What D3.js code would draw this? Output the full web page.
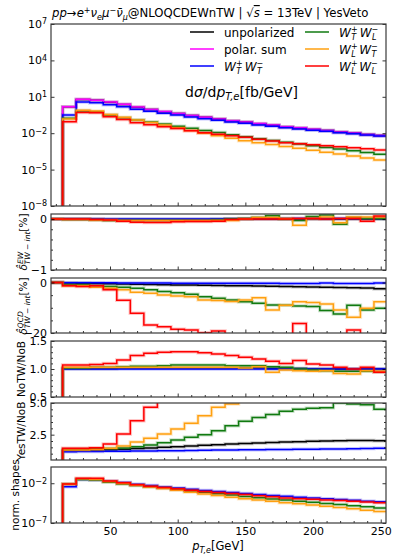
<!DOCTYPE html>
<html>
<head>
<meta charset="utf-8">
<script src="https://cdn.jsdelivr.net/npm/d3@7"></script>
<style>
body { margin: 0; background: #fff; }
svg { display: block; }
text { font-family: "DejaVu Sans", sans-serif; fill: #000; }
</style>
</head>
<body>
<svg width="399" height="559"></svg>
<script>
// bin edges of p_T,e [GeV]
var binEdges = [5,15,25,35,45,55,65,75,85,95,105,115,125,135,145,155,165,175,185,195,205,215,225,235,245,255];

// main panel, log10 of dsigma/dpT [fb/GeV]; first bin is empty
var logUnpol = [null,0.17,0.78,0.71,0.56,0.37,0.14,-0.05,-0.23,-0.38,-0.55,-0.69,-0.83,-0.98,-1.08,-1.22,-1.34,-1.47,-1.57,-1.69,-1.78,-1.91,-1.99,-2.11,-2.19];
var logSum   = [null,0.18,0.79,0.72,0.57,0.38,0.15,-0.04,-0.22,-0.37,-0.54,-0.68,-0.82,-0.97,-1.07,-1.21,-1.33,-1.46,-1.56,-1.68,-1.77,-1.90,-1.98,-2.10,-2.18];
var logTT    = [null,-0.50,0.58,0.50,0.35,0.18,-0.03,-0.20,-0.36,-0.50,-0.66,-0.80,-0.94,-1.08,-1.18,-1.32,-1.43,-1.55,-1.65,-1.76,-1.84,-1.96,-2.04,-2.15,-2.23];
var logTL    = [null,-0.77,-0.17,-0.23,-0.50,-0.72,-0.91,-1.08,-1.24,-1.42,-1.60,-1.77,-1.95,-2.12,-2.30,-2.45,-2.60,-2.75,-2.89,-3.03,-3.17,-3.31,-3.45,-3.60,-3.74];
var logLT    = [null,-0.82,-0.10,-0.18,-0.45,-0.68,-0.92,-1.12,-1.32,-1.55,-1.78,-2.00,-2.20,-2.42,-2.62,-2.78,-2.94,-3.10,-3.25,-3.40,-3.56,-3.72,-3.88,-4.05,-4.21];
var logLL    = [null,-1.05,-0.30,-0.31,-0.64,-0.88,-1.13,-1.30,-1.46,-1.62,-1.80,-1.96,-2.09,-2.22,-2.34,-2.49,-2.64,-2.78,-2.87,-2.95,-3.03,-3.11,-3.20,-3.29,-3.38];

// EW TW-interference correction [%]
var ewUnpol = [0,0,0,-0.005,-0.01,-0.01,-0.01,-0.01,-0.01,-0.01,-0.01,-0.01,-0.005,0,0,0,0,0,0,0,0,0,0,0,0];
var ewTT    = [0,0,0,0,0,0,0,0,0,0,0,0,0,0.005,0.005,0.01,0.01,0.01,0.01,0.01,0.01,0.01,0.01,0.01,0.01];
var ewTL    = [0,-0.01,-0.01,-0.02,-0.03,-0.03,-0.03,-0.03,-0.03,-0.03,-0.03,-0.03,-0.02,0,0.01,0.03,0.066,0,-0.03,0.05,0.08,-0.10,0.03,0.01,0.01];
var ewLT    = [0,-0.01,-0.01,-0.02,-0.02,-0.03,-0.03,-0.03,-0.03,-0.03,-0.03,-0.03,-0.03,-0.03,0,0.03,0.03,0.01,-0.12,0.01,0.04,-0.07,0.04,0.04,0.04];
var ewLL    = [0,0,0,-0.01,-0.02,-0.04,-0.06,-0.066,-0.066,-0.053,-0.046,-0.046,-0.04,-0.007,0,0,0,0,0.01,0.013,0,0.013,0.013,-0.04,0.06];

// QCD TW-interference correction [%]
var qcdUnpol = [0,-0.2,-0.3,-0.4,-0.5,-0.6,-0.7,-0.8,-0.9,-1.0,-1.0,-1.1,-1.2,-1.3,-1.3,-1.4,-1.5,-1.6,-1.7,-1.8,-1.9,-2.0,-2.1,-2.2,-2.5];
var qcdTT    = [0,-0.1,-0.1,-0.1,-0.1,-0.2,-0.2,-0.2,-0.2,-0.3,-0.3,-0.3,-0.3,-0.3,-0.3,-0.3,-0.3,-0.4,-0.4,-0.4,-0.2,-0.4,-0.4,-0.4,-0.2];
var qcdTL    = [0,-0.9,-0.9,-1.3,-1.6,-1.9,-2.3,-2.9,-3.6,-4.0,-4.6,-5.6,-6.2,-6.9,-7.6,-8.2,-8.9,-9.0,-9.3,-9.5,-11.1,-12.5,-9.0,-10.9,-10.2];
var qcdLT    = [0,-1.3,-1.3,-1.9,-2.3,-2.9,-3.8,-4.2,-4.9,-5.3,-5.6,-6.9,-7.1,-7.5,-6.9,-6.0,-10.9,-9.0,-7.6,-7.9,-8.5,-10.9,-13.8,-10.2,-7.6];
var qcdLL    = [0,-1.3,-1.6,-1.3,-2.9,-7.0,-12.2,-16.8,-17.5,-18.5,-18.8,-19.9,-19.2,-23,-23,-23,-23,-23,-16.2,-23,-23,-23,-18.8,-23,-23];

// NoTW / NoB
var noUnpol = [null,1.01,1.01,1.01,1.01,1.02,1.02,1.02,1.02,1.02,1.02,1.02,1.02,1.02,1.02,1.02,1.01,1.01,1.01,1.0,1.0,1.0,1.0,1.0,1.0];
var noTT    = [null,1.0,1.0,1.0,1.0,1.0,1.0,1.0,1.0,1.0,1.0,1.0,1.0,1.0,1.0,1.0,1.0,1.0,1.0,1.0,1.0,1.0,1.0,1.0,1.0];
var noTL    = [null,1.02,1.02,1.03,1.03,1.04,1.05,1.05,1.06,1.07,1.07,1.07,1.07,1.06,1.06,1.06,1.04,1.03,1.0,0.98,0.97,0.96,0.96,0.96,0.95];
var noLT    = [null,1.03,1.03,1.03,1.03,1.03,1.03,1.03,1.03,1.03,1.03,1.03,1.03,1.03,1.02,1.04,0.94,0.98,0.97,0.96,0.97,0.92,0.91,0.97,0.96];
var noLL    = [null,1.07,1.07,1.08,1.10,1.16,1.24,1.28,1.30,1.31,1.31,1.29,1.27,1.24,1.21,1.18,1.14,1.10,1.15,1.09,1.07,1.03,1.00,1.03,0.94];

// YesTW / NoB
var yesUnpol = [null,1.24,1.26,1.28,1.30,1.34,1.40,1.45,1.50,1.55,1.60,1.66,1.71,1.76,1.80,1.84,1.88,1.92,1.95,1.98,2.0,2.02,2.03,2.03,2.02];
var yesTT    = [null,1.16,1.17,1.18,1.19,1.20,1.21,1.22,1.23,1.24,1.25,1.27,1.28,1.29,1.30,1.31,1.32,1.33,1.34,1.35,1.36,1.37,1.38,1.40,1.42];
var yesTL    = [null,1.35,1.35,1.38,1.40,1.45,1.55,1.68,1.87,2.08,2.29,2.50,2.80,3.20,3.55,3.85,4.10,4.35,4.50,4.58,4.62,5.0,4.92,4.86,4.5];
var yesLT    = [null,1.29,1.29,1.32,1.42,1.61,1.92,2.21,2.55,2.95,3.40,4.0,4.66,4.92,5.4,5.8,6.2,6.6,7.0,7.4,7.8,8.2,8.6,9.0,9.4];
var yesLL    = [null,1.42,1.42,1.47,1.76,2.55,3.60,4.66,5.6,6.5,7.5,8.0,8.5,9.0,9.0,9.0,9.0,9.0,9.0,9.0,9.0,9.0,9.0,9.0,9.0];

// normalised shapes, log10
var shTT = [null,-2.45,-1.52,-1.60,-1.75,-1.92,-2.13,-2.30,-2.46,-2.60,-2.76,-2.90,-3.04,-3.18,-3.28,-3.42,-3.53,-3.65,-3.75,-3.86,-3.94,-4.06,-4.14,-4.25,-4.33];
var shTL = [null,-2.10,-1.54,-1.60,-1.87,-2.09,-2.28,-2.45,-2.61,-2.79,-2.97,-3.14,-3.32,-3.49,-3.67,-3.82,-3.97,-4.12,-4.26,-4.40,-4.54,-4.68,-4.82,-4.97,-5.11];
var shLT = [null,-2.12,-1.44,-1.52,-1.79,-2.02,-2.26,-2.46,-2.66,-2.89,-3.12,-3.34,-3.54,-3.76,-3.96,-4.12,-4.28,-4.44,-4.59,-4.74,-4.90,-5.06,-5.22,-5.39,-5.55];
var shLL = [null,-2.10,-1.37,-1.38,-1.71,-1.95,-2.20,-2.37,-2.53,-2.69,-2.87,-3.03,-3.16,-3.29,-3.41,-3.56,-3.71,-3.85,-3.94,-4.02,-4.10,-4.18,-4.27,-4.36,-4.45];

var colors = {unpol: "#000000", sum: "#ff00ff", TT: "#0000ff", TL: "#107a10", LT: "#ffa010", LL: "#ff0000"};

var svg = d3.select("svg");
var L = 51, R = 386;
var x = d3.scaleLinear().domain([6.4, 253.9]).range([L, R]);

function richText(g, px, py, parts, size, anchor) {
    var t = g.append("text").attr("x", px).attr("y", py)
        .attr("font-size", size).attr("text-anchor", anchor || "start");
    parts.forEach(function(p) {
        var s = t.append("tspan").text(p.t);
        if (p.i) s.attr("font-style", "italic");
        if (p.fs) s.attr("font-size", p.fs);
        if (p.dx) s.attr("dx", p.dx);
        if (p.dy) s.attr("dy", p.dy);
        if (p.over) s.style("text-decoration", "overline");
    });
    return t;
}

function makePanel(id, top, bottom, y, isLog) {
    var g = svg.append("g");
    g.append("clipPath").attr("id", "clip" + id)
        .append("rect").attr("x", L).attr("y", top).attr("width", R - L).attr("height", bottom - top);
    var lines = g.append("g").attr("clip-path", "url(#clip" + id + ")");
    return {g: g, lines: lines, y: y, top: top, bottom: bottom, isLog: isLog};
}

var step = d3.line().curve(d3.curveStepAfter);

function drawStep(p, vals, color) {
    var pts = [];
    vals.forEach(function(v, k) {
        if (v === null) return;
        var py = p.isLog ? p.y(Math.pow(10, v)) : p.y(v);
        if (!pts.length && k > 0) pts.push([x(binEdges[k]), p.bottom + 30]); // empty bin: rise from below
        pts.push([x(binEdges[k]), py]);
    });
    pts.push([x(binEdges[vals.length]), pts[pts.length - 1][1]]);
    // the first point sits at the same x, so the step curve gives a vertical rise
    var d = step(pts);
    p.lines.append("path").attr("d", d).attr("fill", "none")
        .attr("stroke", color).attr("stroke-width", 3.5).attr("stroke-opacity", 0.22);
    p.lines.append("path").attr("d", d).attr("fill", "none")
        .attr("stroke", color).attr("stroke-width", 1.5);
}

function styleAxis(sel) {
    sel.select(".domain").remove();
    sel.selectAll("line").attr("stroke", "#000").attr("stroke-width", 0.8);
    sel.selectAll("text").attr("font-size", 11).attr("font-family", "DejaVu Sans").attr("fill", "#000");
}

function frame(p, major, minor, fmt, xLabels) {
    var g = p.g;
    g.append("g").attr("transform", "translate(" + L + ",0)")
        .call(d3.axisLeft(p.y).tickValues(major).tickSize(-3.5).tickPadding(4).tickFormat(fmt))
        .call(styleAxis);
    g.append("g").attr("transform", "translate(" + R + ",0)")
        .call(d3.axisRight(p.y).tickValues(major).tickSize(-3.5).tickFormat(""))
        .call(styleAxis);
    if (minor.length) {
        g.append("g").attr("transform", "translate(" + L + ",0)")
            .call(d3.axisLeft(p.y).tickValues(minor).tickSize(-2).tickFormat("")).call(styleAxis);
        g.append("g").attr("transform", "translate(" + R + ",0)")
            .call(d3.axisRight(p.y).tickValues(minor).tickSize(-2).tickFormat("")).call(styleAxis);
    }
    g.append("g").attr("transform", "translate(0," + p.bottom + ")")
        .call(d3.axisBottom(x).tickValues([50, 100, 150, 200, 250]).tickSize(-3.5).tickPadding(4)
            .tickFormat(xLabels ? d3.format("d") : ""))
        .call(styleAxis);
    g.append("g").attr("transform", "translate(0," + p.bottom + ")")
        .call(d3.axisBottom(x).tickValues([10,20,30,40,60,70,80,90,110,120,130,140,160,170,180,190,210,220,230,240])
            .tickSize(-2).tickFormat(""))
        .call(styleAxis);
    g.append("rect").attr("x", L).attr("y", p.top).attr("width", R - L).attr("height", p.bottom - p.top)
        .attr("fill", "none").attr("stroke", "#3a3a3a").attr("stroke-width", 1.2);
}

function logLabels(p) {
    p.g.selectAll(".tick text").filter(function() { return this.textContent === "L"; })
        .each(function(d) {
            var e = Math.round(Math.log10(d));
            var t = d3.select(this).text(null);
            t.append("tspan").text("10");
            t.append("tspan").attr("dy", "-0.45em").attr("font-size", 8).text(String(e).replace("-", "\u2212"));
        });
}

function sideLabel(cx, cy, parts, size) {
    var g = svg.append("g").attr("transform", "translate(" + cx + "," + cy + ") rotate(-90)");
    richText(g, 0, 0, parts, size, "middle");
}

var minusFmt = function(d) { return String(d).replace("-", "\u2212"); };

// main panel
var pMain = makePanel("main", 24, 206, d3.scaleLog().domain([1e-8, 1e7]).range([206, 24]), true);
drawStep(pMain, logUnpol, colors.unpol);
drawStep(pMain, logSum, colors.sum);
drawStep(pMain, logTT, colors.TT);
drawStep(pMain, logTL, colors.TL);
drawStep(pMain, logLT, colors.LT);
drawStep(pMain, logLL, colors.LL);
frame(pMain, [1e-8, 1e-5, 1e-2, 1e1, 1e4, 1e7], [], function() { return "L"; }, false);
logLabels(pMain);

// EW panel
var pEW = makePanel("ew", 214, 270, d3.scaleLinear().domain([-1, 0.1]).range([270, 214]), false);
drawStep(pEW, ewUnpol, colors.unpol);
drawStep(pEW, ewTT, colors.TT);
drawStep(pEW, ewTL, colors.TL);
drawStep(pEW, ewLT, colors.LT);
drawStep(pEW, ewLL, colors.LL);
frame(pEW, [-1, 0], [-0.8, -0.6, -0.4, -0.2], minusFmt, false);

// QCD panel
var pQCD = makePanel("qcd", 278, 333, d3.scaleLinear().domain([-20, 1.8]).range([333, 278]), false);
drawStep(pQCD, qcdUnpol, colors.unpol);
drawStep(pQCD, qcdTT, colors.TT);
drawStep(pQCD, qcdTL, colors.TL);
drawStep(pQCD, qcdLT, colors.LT);
drawStep(pQCD, qcdLL, colors.LL);
frame(pQCD, [-20, 0], [-15, -10, -5], minusFmt, false);

// NoTW/NoB panel
var pNo = makePanel("no", 341, 397, d3.scaleLinear().domain([0.5, 1.5]).range([397, 341]), false);
drawStep(pNo, noUnpol, colors.unpol);
drawStep(pNo, noTT, colors.TT);
drawStep(pNo, noTL, colors.TL);
drawStep(pNo, noLT, colors.LT);
drawStep(pNo, noLL, colors.LL);
frame(pNo, [0.5, 1.0, 1.5], [0.6, 0.7, 0.8, 0.9, 1.1, 1.2, 1.3, 1.4], d3.format(".1f"), false);

// YesTW/NoB panel
var pYes = makePanel("yes", 403, 460, d3.scaleLinear().domain([0.5, 5.0]).range([460, 403]), false);
drawStep(pYes, yesUnpol, colors.unpol);
drawStep(pYes, yesTT, colors.TT);
drawStep(pYes, yesTL, colors.TL);
drawStep(pYes, yesLT, colors.LT);
drawStep(pYes, yesLL, colors.LL);
frame(pYes, [2.5, 5.0], [1.0, 1.5, 2.0, 3.0, 3.5, 4.0, 4.5], d3.format(".1f"), false);

// normalised shapes
var pSh = makePanel("sh", 467, 523, d3.scaleLog().domain([1e-7, 1.1]).range([523, 467]), true);
drawStep(pSh, shTT, colors.TT);
drawStep(pSh, shTL, colors.TL);
drawStep(pSh, shLT, colors.LT);
drawStep(pSh, shLL, colors.LL);
frame(pSh, [1e-7, 1e-2], [], function() { return "L"; }, true);
logLabels(pSh);

// title
richText(svg, 52, 17, [
    {t: "pp", i: 1}, {t: "→"}, {t: "e", i: 1}, {t: "+", fs: 8, dy: -4.5},
    {t: "ν", i: 1, dy: 4.5}, {t: "e", i: 1, fs: 8, dy: 2.5}, {t: "μ", i: 1, dy: -2.5},
    {t: "−", fs: 8, dy: -4.5}, {t: "ν̄", i: 1, dy: 4.5}, {t: "μ", i: 1, fs: 8, dy: 2.5},
    {t: "@NLOQCDEWnTW | ", dy: -2.5}, {t: "√"}, {t: "s", i: 1, over: 1}, {t: " = 13TeV | YesVeto"}
], 11.7);

// legend
var sub = 8;
function wLabel(a, b) {
    return [{t: "W", i: 1}, {t: "+", fs: sub, dy: -4.5}, {t: a, i: 1, fs: sub, dx: -6.3, dy: 8},
            {t: "W", i: 1, dx: 3.5, dy: -3.5}, {t: "−", fs: sub, dy: -4.5}, {t: b, i: 1, fs: sub, dx: -6.3, dy: 8}];
}
var legend = [
    {col: 0, row: 0, c: colors.unpol, parts: [{t: "unpolarized"}]},
    {col: 0, row: 1, c: colors.sum, parts: [{t: "polar. sum"}]},
    {col: 0, row: 2, c: colors.TT, parts: wLabel("T", "T")},
    {col: 1, row: 0, c: colors.TL, parts: wLabel("T", "L")},
    {col: 1, row: 1, c: colors.LT, parts: wLabel("L", "T")},
    {col: 1, row: 2, c: colors.LL, parts: wLabel("L", "L")}
];
var legX = [190, 305], legY = [32, 49, 66];
legend.forEach(function(e) {
    var lx = legX[e.col], ly = legY[e.row];
    svg.append("line").attr("x1", lx).attr("x2", lx + 24).attr("y1", ly).attr("y2", ly)
        .attr("stroke", e.c).attr("stroke-width", 1.5);
    richText(svg, lx + 34, ly + 4.5, e.parts, 12);
});

// observable label
richText(svg, 185, 97, [{t: "d"}, {t: "σ", i: 1}, {t: "/d"}, {t: "p", i: 1}, {t: "T,e", i: 1, fs: 10, dy: 3},
    {t: "[fb/GeV]", dy: -3}], 14);

// axis labels
richText(svg, 218, 550, [{t: "p", i: 1}, {t: "T,e", i: 1, fs: 8, dy: 2.5}, {t: "[GeV]", dy: -2.5}], 11.5, "middle");
sideLabel(27, 242, [{t: "δ̂", i: 1}, {t: "EW", i: 1, fs: 7.5, dy: -4.5}, {t: "TW − int", i: 1, fs: 7.5, dx: -12.5, dy: 7.5},
    {t: "[%]", dy: -3}], 10.5);
sideLabel(27, 306, [{t: "δ̂", i: 1}, {t: "QCD", i: 1, fs: 7.5, dy: -4.5}, {t: "TW − int", i: 1, fs: 7.5, dx: -17, dy: 7.5},
    {t: "[%]", dy: -3}], 10.5);
sideLabel(25, 369, [{t: "NoTW/NoB"}], 10.5);
sideLabel(25, 431, [{t: "YesTW/NoB"}], 10.5);
sideLabel(19, 495, [{t: "norm. shapes"}], 10.5);
</script>
</body>
</html>
